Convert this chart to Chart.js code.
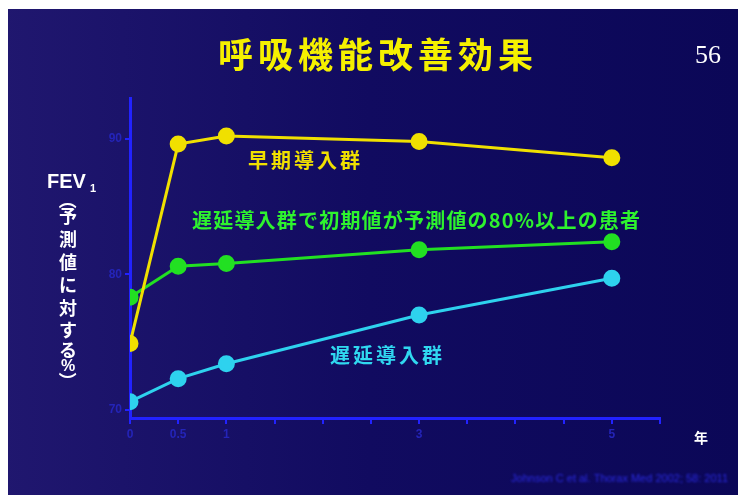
<!DOCTYPE html>
<html>
<head>
<meta charset="utf-8">
<script src="https://cdn.jsdelivr.net/npm/chart.js@4.4.1/dist/chart.umd.min.js"></script>
<style>
  html, body { margin: 0; padding: 0; background: #ffffff; }
  #wrap { width: 738px; height: 495px; }
</style>
</head>
<body>
<div id="wrap"><canvas id="chart" width="738" height="495"></canvas></div>
<script>
// years after start
const years = [0, 0.5, 1, 3, 5];
// FEV1 (% of predicted)
const earlyGroup = [74.9, 89.6, 90.2, 89.8, 88.6];
const lateHighGroup = [78.3, 80.6, 80.8, 81.8, 82.4];
const lateGroup = [70.6, 72.3, 73.4, 77.0, 79.7];
// axis ticks
const xTicks = [0, 0.5, 1, 1.5, 2, 2.5, 3, 3.5, 4, 4.5, 5, 5.5];
const xTickLabels = ['0', '0.5', '1', '', '', '', '3', '', '', '', '5', ''];
const yTicks = [70, 80, 90];

const JP = '"Noto Sans CJK JP", "Noto Sans", sans-serif';
const axisBlue = '#2222ff';

function points(vals) {
    return years.map((x, i) => ({ x: x, y: vals[i] }));
}

function series(label, vals, color) {
    return {
        label: label,
        data: points(vals),
        borderColor: color,
        backgroundColor: color,
        pointBackgroundColor: color,
        pointBorderColor: color,
        pointRadius: 7,
        borderWidth: 3,
        tension: 0
    };
}

// background, title, labels drawn around the plot
const slideDecor = {
    id: 'slideDecor',
    beforeDraw(chart) {
        const ctx = chart.ctx;
        ctx.save();
        ctx.fillStyle = '#ffffff';
        ctx.fillRect(0, 0, 738, 495);
        const g = ctx.createLinearGradient(0, 0, 738, 0);
        g.addColorStop(0, '#20176f');
        g.addColorStop(0.5, '#110b60');
        g.addColorStop(1, '#0b0757');
        ctx.fillStyle = g;
        ctx.fillRect(8, 9, 730, 486);
        ctx.restore();
    },
    afterDraw(chart) {
        const ctx = chart.ctx;
        ctx.save();
        ctx.textBaseline = 'middle';

        // title
        ctx.textAlign = 'center';
        ctx.fillStyle = '#f5f000';
        ctx.font = 'bold 35px ' + JP;
        ctx.letterSpacing = '5px';
        ctx.fillText('呼吸機能改善効果', 378, 55);
        ctx.letterSpacing = '0px';

        // page number
        ctx.fillStyle = '#ffffff';
        ctx.font = '26px "Liberation Serif", serif';
        ctx.fillText('56', 708, 56);

        // series labels
        ctx.textAlign = 'left';
        ctx.font = 'bold 20px ' + JP;
        ctx.letterSpacing = '3px';
        ctx.fillStyle = '#f0e000';
        ctx.fillText('早期導入群', 248, 160);
        ctx.fillStyle = '#2ef32e';
        ctx.letterSpacing = '1.2px';
        ctx.fillText('遅延導入群で初期値が予測値の80%以上の患者', 192, 220);
        ctx.fillStyle = '#30d8f0';
        ctx.letterSpacing = '3px';
        ctx.fillText('遅延導入群', 330, 355);
        ctx.letterSpacing = '0px';

        // y-axis title
        ctx.fillStyle = '#ffffff';
        ctx.font = 'bold 20px "Liberation Sans", sans-serif';
        ctx.fillText('FEV', 47, 182);
        ctx.font = 'bold 11px "Liberation Sans", sans-serif';
        ctx.fillText('1', 90, 189);
        const vchars = ['予', '測', '値', 'に', '対', 'す', 'る', '%'];
        const vy = [216, 239, 262, 285, 308, 330, 350, 367];
        ctx.textAlign = 'center';
        ctx.font = 'bold 18px ' + JP;
        vchars.forEach((c, i) => {
            if (c === '%') ctx.font = 'bold 16px "Liberation Sans", sans-serif';
            ctx.fillText(c, 68, vy[i]);
        });
        // rotated parentheses
        ctx.font = 'bold 18px ' + JP;
        [['（', 200], ['）', 381]].forEach(([c, y]) => {
            ctx.save();
            ctx.translate(68, y);
            ctx.rotate(Math.PI / 2);
            ctx.fillText(c, 0, 0);
            ctx.restore();
        });

        // x-axis unit
        ctx.font = 'bold 14px ' + JP;
        ctx.fillText('年', 701, 438);

        // source line (blurred in the original)
        ctx.filter = 'blur(1.2px)';
        ctx.fillStyle = '#2a2ae0';
        ctx.textAlign = 'right';
        ctx.font = '11px "Liberation Sans", sans-serif';
        ctx.fillText('Johnson C et al. Thorax Med 2002; 58: 2011', 728, 479);
        ctx.filter = 'none';
        ctx.restore();
    }
};

const config = {
    type: 'line',
    data: {
        datasets: [
            series('早期導入群', earlyGroup, '#f0e000'),
            series('遅延導入群で初期値が予測値の80%以上の患者', lateHighGroup, '#22e022'),
            series('遅延導入群', lateGroup, '#2ed2ee')
        ]
    },
    options: {
        responsive: false,
        animation: false,
        layout: { padding: { left: 88, right: 78, top: 98, bottom: 47 } },
        plugins: {
            legend: { display: false },
            tooltip: { enabled: false }
        },
        scales: {
            x: {
                type: 'linear',
                min: 0,
                max: 5.5,
                afterFit(scale) { scale.height = 30; },
                afterBuildTicks(scale) { scale.ticks = xTicks.map(v => ({ value: v })); },
                border: { color: axisBlue, width: 3 },
                grid: { drawOnChartArea: false, drawTicks: true, tickLength: 6, color: axisBlue, lineWidth: 2 },
                ticks: {
                    autoSkip: false,
                    maxRotation: 0,
                    color: '#2424b8',
                    font: { size: 12, weight: 'bold', family: '"Liberation Sans", sans-serif' },
                    callback: (v, i) => xTickLabels[i]
                }
            },
            y: {
                min: 69.4,
                max: 93,
                afterFit(scale) { scale.width = 42; },
                afterBuildTicks(scale) { scale.ticks = yTicks.map(v => ({ value: v })); },
                border: { color: axisBlue, width: 3 },
                grid: { drawOnChartArea: false, drawTicks: true, tickLength: 5, color: axisBlue, lineWidth: 2 },
                ticks: {
                    color: '#2424b8',
                    font: { size: 12, weight: 'bold', family: '"Liberation Sans", sans-serif' }
                }
            }
        }
    },
    plugins: [slideDecor]
};

document.addEventListener('DOMContentLoaded', function() {
    const ctx = document.getElementById('chart').getContext('2d');
    window.fevChart = new Chart(ctx, config);
});
</script>
</body>
</html>
